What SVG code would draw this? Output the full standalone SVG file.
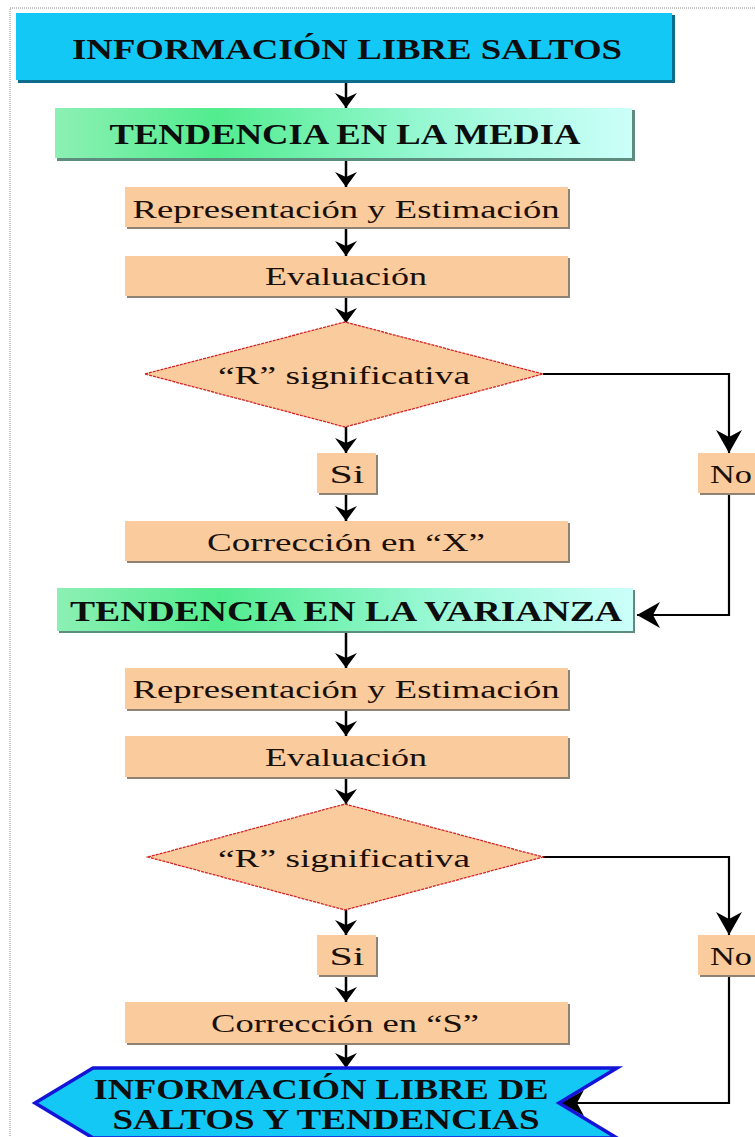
<svg xmlns="http://www.w3.org/2000/svg" width="755" height="1137" viewBox="0 0 755 1137">
<defs>
<linearGradient id="green" x1="0" y1="0" x2="1" y2="0">
<stop offset="0" stop-color="#8CF0B4"/>
<stop offset="0.28" stop-color="#52EC8E"/>
<stop offset="0.65" stop-color="#98F8D4"/>
<stop offset="1" stop-color="#CCFFFA"/>
</linearGradient>
<marker id="ah" markerUnits="userSpaceOnUse" markerWidth="16" markerHeight="24" refX="15" refY="12" orient="auto" viewBox="0 0 16 24">
<path d="M0,1 L15,12 L0,23 L5,12 z" fill="#000"/>
</marker>
<marker id="ahb" markerUnits="userSpaceOnUse" markerWidth="24" markerHeight="28" refX="23" refY="14" orient="auto" viewBox="0 0 24 28">
<path d="M0,1 L23,14 L0,27 L7,14 z" fill="#000"/>
</marker>
</defs>
<style>
.bt{font-family:"Liberation Serif","Times New Roman",serif;font-weight:bold;font-size:29px;fill:#0d0d0d;text-anchor:middle}
.rt{font-family:"Liberation Serif","Times New Roman",serif;font-size:25px;fill:#1a1008;text-anchor:middle}
.peach{fill:#FACB9C}
.psh{fill:#8E8272}
.gsh{fill:#5E8C7E}
.dia{fill:#FACB9C;stroke:#D42424;stroke-width:1.3;stroke-dasharray:3 1}
.c{fill:none;stroke:#000;stroke-width:2.5}
.cb{fill:none;stroke:#000;stroke-width:2.2}
</style>
<rect x="10" y="8" width="760" height="1140" fill="#fff" stroke="#888" stroke-width="1" stroke-dasharray="1 1"/>

<g id="connectors">
<line class="c" x1="346" y1="83" x2="346" y2="108" marker-end="url(#ah)"/>
<line class="c" x1="346" y1="161" x2="346" y2="187" marker-end="url(#ah)"/>
<line class="c" x1="346" y1="229" x2="346" y2="256" marker-end="url(#ah)"/>
<line class="c" x1="346" y1="298" x2="346" y2="323" marker-end="url(#ah)"/>
<line class="c" x1="346" y1="427" x2="346" y2="453" marker-end="url(#ah)"/>
<line class="c" x1="346" y1="495" x2="346" y2="521" marker-end="url(#ah)"/>
<polyline class="cb" points="543,374 729,374 729,453" marker-end="url(#ahb)"/>
<polyline class="cb" points="729,495 729,615 637,615" marker-end="url(#ahb)"/>
<line class="c" x1="346" y1="633" x2="346" y2="668" marker-end="url(#ah)"/>
<line class="c" x1="346" y1="711" x2="346" y2="736" marker-end="url(#ah)"/>
<line class="c" x1="346" y1="779" x2="346" y2="804" marker-end="url(#ah)"/>
<line class="c" x1="346" y1="910" x2="346" y2="935" marker-end="url(#ah)"/>
<line class="c" x1="346" y1="977" x2="346" y2="1002" marker-end="url(#ah)"/>
<line class="c" x1="346" y1="1045" x2="346" y2="1068" marker-end="url(#ah)"/>
<polyline class="cb" points="543,857 729,857 729,935" marker-end="url(#ahb)"/>
<polyline class="cb" points="729,977 729,1103 561,1103" marker-end="url(#ahb)"/>
</g>

<g id="n1">
<rect x="18" y="15" width="657" height="68" fill="#0B6C8C"/>
<rect x="16" y="13" width="656" height="67" fill="#14C8F6"/>
<text class="bt" x="347" y="59" textLength="550" lengthAdjust="spacingAndGlyphs">INFORMACIÓN LIBRE SALTOS</text>
</g>
<g id="n2">
<rect x="57" y="110" width="578" height="51" class="gsh"/>
<rect x="55" y="108" width="577" height="50" fill="url(#green)"/>
<text class="bt" x="345" y="144" textLength="471" lengthAdjust="spacingAndGlyphs">TENDENCIA EN LA MEDIA</text>
</g>
<g id="n3">
<rect x="127" y="189" width="443" height="40" class="psh"/>
<rect x="125" y="187" width="443" height="40" class="peach"/>
<text class="rt" x="346" y="218" textLength="427" lengthAdjust="spacingAndGlyphs">Representación y Estimación</text>
</g>
<g id="n4">
<rect x="127" y="258" width="443" height="40" class="psh"/>
<rect x="125" y="256" width="443" height="40" class="peach"/>
<text class="rt" x="346" y="285" textLength="162" lengthAdjust="spacingAndGlyphs">Evaluación</text>
</g>
<g id="n5">
<polygon class="dia" points="145,374 345,322 543,374 345,427"/>
<text class="rt" x="344" y="384" textLength="252" lengthAdjust="spacingAndGlyphs">“R” significativa</text>
</g>
<g id="n6">
<rect x="319" y="455" width="59" height="40" class="psh"/>
<rect x="317" y="453" width="59" height="40" class="peach"/>
<text class="rt" x="347" y="483" textLength="35" lengthAdjust="spacingAndGlyphs">Si</text>
</g>
<g id="n7">
<rect x="700" y="455" width="60" height="40" class="psh"/>
<rect x="698" y="453" width="60" height="40" class="peach"/>
<text class="rt" x="731" y="483" textLength="42" lengthAdjust="spacingAndGlyphs">No</text>
</g>
<g id="n8">
<rect x="127" y="523" width="443" height="40" class="psh"/>
<rect x="125" y="521" width="443" height="40" class="peach"/>
<text class="rt" x="346" y="551" textLength="278" lengthAdjust="spacingAndGlyphs">Corrección en “X”</text>
</g>
<g id="n9">
<rect x="59" y="590" width="576" height="43" class="gsh"/>
<rect x="57" y="588" width="576" height="43" fill="url(#green)"/>
<text class="bt" x="346" y="621" textLength="552" lengthAdjust="spacingAndGlyphs">TENDENCIA EN LA VARIANZA</text>
</g>
<g id="n10">
<rect x="127" y="670" width="443" height="41" class="psh"/>
<rect x="125" y="668" width="443" height="41" class="peach"/>
<text class="rt" x="346" y="698" textLength="427" lengthAdjust="spacingAndGlyphs">Representación y Estimación</text>
</g>
<g id="n11">
<rect x="127" y="738" width="443" height="41" class="psh"/>
<rect x="125" y="736" width="443" height="41" class="peach"/>
<text class="rt" x="346" y="766" textLength="162" lengthAdjust="spacingAndGlyphs">Evaluación</text>
</g>
<g id="n12">
<polygon class="dia" points="148,857 345,804 543,857 345,910"/>
<text class="rt" x="344" y="867" textLength="252" lengthAdjust="spacingAndGlyphs">“R” significativa</text>
</g>
<g id="n13">
<rect x="319" y="937" width="59" height="40" class="psh"/>
<rect x="317" y="935" width="59" height="40" class="peach"/>
<text class="rt" x="347" y="965" textLength="35" lengthAdjust="spacingAndGlyphs">Si</text>
</g>
<g id="n14">
<rect x="700" y="937" width="60" height="40" class="psh"/>
<rect x="698" y="935" width="60" height="40" class="peach"/>
<text class="rt" x="731" y="965" textLength="42" lengthAdjust="spacingAndGlyphs">No</text>
</g>
<g id="n15">
<rect x="127" y="1004" width="443" height="41" class="psh"/>
<rect x="125" y="1002" width="443" height="41" class="peach"/>
<text class="rt" x="345" y="1032" textLength="268" lengthAdjust="spacingAndGlyphs">Corrección en “S”</text>
</g>
<g id="n16">
<polygon points="35,1103 93,1068 617,1068 559,1103 617,1138 93,1138" fill="#14C8F6" stroke="#1414D8" stroke-width="3.5" stroke-linejoin="miter"/>
<text class="bt" x="321" y="1099" textLength="455" lengthAdjust="spacingAndGlyphs">INFORMACIÓN LIBRE DE</text>
<text class="bt" x="326" y="1129" textLength="427" lengthAdjust="spacingAndGlyphs">SALTOS Y TENDENCIAS</text>
</g>
</svg>
